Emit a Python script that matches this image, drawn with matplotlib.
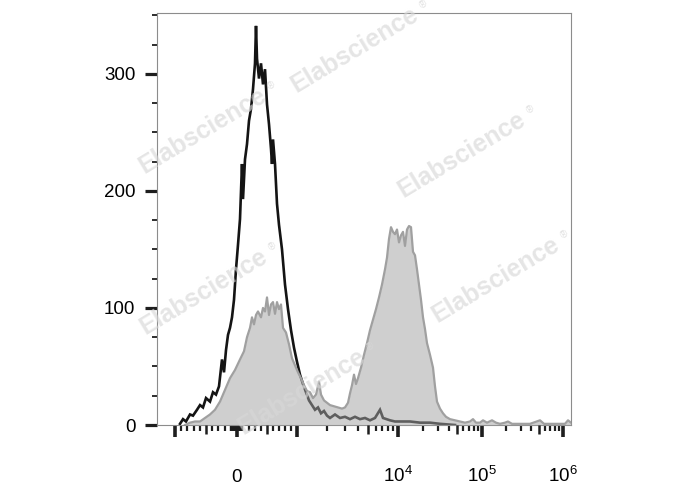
import numpy as np
import matplotlib
matplotlib.use("Agg")
import matplotlib.pyplot as plt

plt.rcParams['font.family'] = ['Liberation Sans', 'DejaVu Sans']
plt.rcParams['mathtext.fontset'] = 'custom'
plt.rcParams['mathtext.rm'] = 'Liberation Sans'
plt.rcParams['mathtext.it'] = 'Liberation Sans:italic'
plt.rcParams['mathtext.bf'] = 'Liberation Sans:bold'

# ---------------- data (display channel of the biex axis, event count) ----------------
black_ch = [23, 26, 29, 33, 36, 40, 43, 46, 49, 53, 56, 59, 62, 65, 67, 69, 71, 73, 75, 77,
            79, 81, 83, 85, 86, 88, 90, 92, 94, 96, 98, 99, 100, 102, 104, 106, 108, 110, 112,
            114, 115, 116, 118, 120, 122, 125, 128, 131, 134, 137, 140, 143, 146, 149, 152,
            155, 158, 161, 164, 167, 170, 173, 178, 183, 188, 193, 198, 203, 208, 213, 218,
            223, 226, 233, 238, 243, 253, 263, 273, 283, 298]
black_counts = [1, 5, 3, 9, 8, 13, 17, 15, 23, 20, 28, 26, 33, 56, 45, 64, 77, 83, 92, 107,
                133, 154, 176, 223, 193, 227, 240, 260, 270, 287, 309, 341, 313, 296, 309, 291,
                304, 274, 257, 236, 223, 244, 223, 189, 171, 150, 120, 99, 81, 66, 54, 43, 35,
                28, 21, 17, 13, 15, 10, 12, 8, 6, 9, 6, 7, 5, 7, 5, 6, 4, 6, 13, 6, 4, 3, 3, 3,
                2, 2, 1, 0]

gray_ch = [28, 33, 38, 43, 48, 53, 58, 63, 68, 73, 78, 83, 87, 90, 93, 95, 97, 99, 101, 104,
           106, 108, 110, 112, 114, 116, 118, 120, 122, 124, 126, 129, 132, 135, 138, 141, 144,
           147, 150, 153, 156, 159, 162, 164, 167, 170, 173, 177, 181, 185, 188, 191, 193, 195,
           197, 199, 201, 204, 207, 210, 213, 216, 219, 222, 225, 228, 230, 232, 234, 236, 238,
           240, 242, 244, 246, 248, 250, 252, 254, 256, 258, 260, 262, 264, 266, 268, 270, 273,
           276, 278, 280, 283, 286, 289, 293, 298, 303, 308, 313, 316, 319, 323, 326, 330, 335,
           339, 343, 348, 351, 355, 363, 373, 383, 387, 398, 408, 411, 414]
gray_counts = [0, 2, 3, 3, 6, 9, 13, 20, 30, 40, 47, 56, 63, 75, 83, 92, 86, 94, 97, 92,
               100, 97, 109, 94, 103, 105, 95, 105, 99, 103, 83, 79, 69, 57, 51, 45, 40, 34, 29,
               28, 23, 26, 37, 26, 21, 19, 17, 16, 15, 14, 15, 19, 27, 34, 43, 35, 40, 49, 60,
               70, 81, 90, 99, 109, 120, 133, 143, 159, 169, 165, 163, 167, 156, 162, 165, 153,
               167, 170, 169, 148, 145, 133, 120, 107, 92, 82, 70, 60, 49, 33, 20, 14, 10, 7, 5,
               4, 3, 2, 3, 5, 2, 2, 4, 2, 4, 2, 1, 2, 3, 1, 1, 1, 4, 1, 1, 1, 4, 2]

y_major = [0, 100, 200, 300]
y_minor = [25, 50, 75, 125, 150, 175, 225, 250, 275, 325, 350]
x_major = [-1000, 0, 1000, 1e4, 1e5, 1e6]
x_major_labels = ['', '0', '', '$10^4$', '$10^5$', '$10^6$']
x_medium = [-500, 500, 5000, 5e4, 5e5]

# ---------------- biexponential-like axis (linear +-1000, log above) ----------------
H_ANCH = [-6, -2, -1, 0, 1, 2, 3, 4, 5, 9]
C_ANCH = [-292, -44, 18, 80, 140, 241, 325, 406, 487, 811]


def _h(x):
    x = np.asarray(x, dtype=float)
    a = np.abs(x)
    with np.errstate(divide='ignore', invalid='ignore'):
        lg = np.sign(x) * (1 + np.log10(np.maximum(a, 1e-300) / 1000.0))
    return np.where(a <= 1000, x / 1000.0, lg)


def _hinv(h):
    h = np.asarray(h, dtype=float)
    with np.errstate(over='ignore'):
        lg = np.sign(h) * 1000.0 * 10 ** (np.abs(h) - 1)
    return np.where(np.abs(h) <= 1, h * 1000.0, lg)


def fwd(x):
    return np.interp(_h(x), H_ANCH, C_ANCH)


def inv(c):
    return _hinv(np.interp(np.asarray(c, dtype=float), C_ANCH, H_ANCH))


black_x = inv(black_ch)
gray_x = inv(gray_ch)

# ---------------- figure ----------------
fig = plt.figure(figsize=(6.88, 4.90), dpi=100)
ax = fig.add_axes([157 / 688, 65 / 490, 414 / 688, 412 / 490])
ax.set_xscale('function', functions=(fwd, inv))
ax.set_xlim(inv(0), inv(414))
ax.set_ylim(0, 352)

ax.plot(black_x, black_counts, color='#141414', lw=1.9, zorder=2, solid_joinstyle='miter')
ax.fill_between(gray_x, 0, gray_counts, color='#a4a4a4', alpha=0.52, lw=0, zorder=3)
ax.plot(gray_x, gray_counts, color='#a0a0a0', lw=1.6, zorder=4)

for s in ax.spines.values():
    s.set_color('#8c8c8c')
    s.set_linewidth(0.8)

# y ticks
ax.set_yticks(y_major)
ax.set_yticks(y_minor, minor=True)
ax.tick_params(axis='y', which='major', length=8.6, width=2.3, color='#1e1e1e',
               pad=7, labelsize=13.5, direction='out')
ax.tick_params(axis='y', which='minor', length=3.6, width=1.3, color='#1e1e1e',
               direction='out')

# x ticks
minor_x = ([-v for v in range(900, 0, -100) if v != 500] +
           [-v for v in range(90, 0, -10)] +
           list(range(10, 100, 10)) +
           [v for v in range(200, 1000, 100) if v != 500] +
           [v * 1000 for v in range(2, 10) if v != 5] +
           [v * 1e4 for v in range(2, 10) if v != 5] +
           [v * 1e5 for v in range(2, 10) if v != 5])
ax.set_xticks(x_major, x_major_labels)
ax.set_xticks(minor_x, minor=True)
ax.tick_params(axis='x', which='major', length=8.6, width=2.6, color='#1e1e1e',
               pad=32.5, labelsize=13.5, direction='out')
ax.tick_params(axis='x', which='minor', length=4.2, width=1.6, color='#1e1e1e',
               direction='out')
for lab in ax.get_xticklabels():
    lab.set_verticalalignment('baseline')

# medium ticks at the 5s
ax.plot(x_medium, [0] * len(x_medium), ls='none', marker=3, markersize=6.5,
        markeredgewidth=1.8, color='#1e1e1e', transform=ax.get_xaxis_transform(),
        clip_on=False, zorder=5)

# watermarks
wm = [(355, 50), (203, 131), (462, 155), (204, 292), (496, 280), (302, 392)]
for px, py in wm:
    fig.text(px / 688, 1 - py / 490, 'Elabscience', rotation=31, rotation_mode='anchor',
             ha='center', va='center', fontsize=18, fontweight='bold',
             color='#d8d8d8', alpha=0.65, zorder=6)
    fig.text((px + 68) / 688, 1 - (py - 45) / 490, '®', rotation=31,
             ha='center', va='center', fontsize=7, color='#d8d8d8', alpha=0.8, zorder=6)

fig.savefig('out.png', dpi=100)
